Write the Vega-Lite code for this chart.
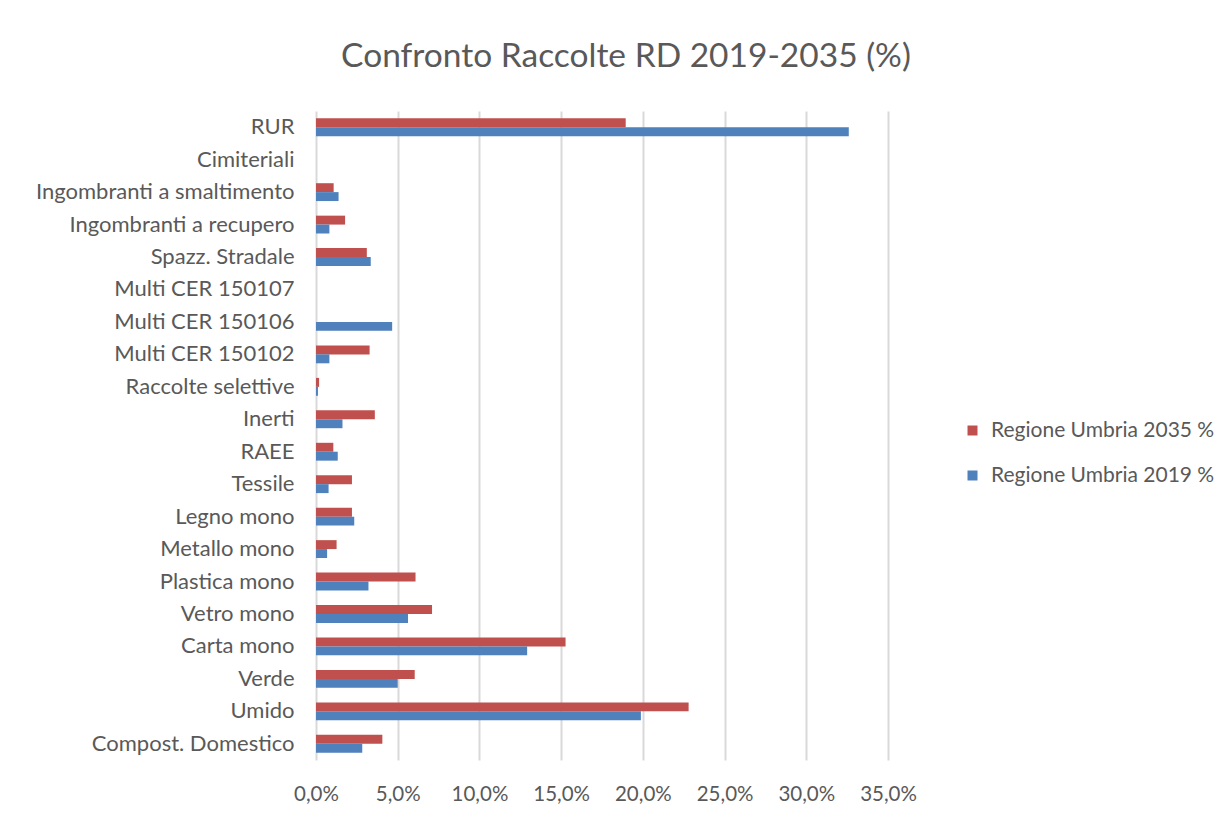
{
  "$schema": "https://vega.github.io/schema/vega-lite/v6.json",
  "width": 572,
  "height": 649,
  "autosize": {"type": "none"},
  "padding": {"left": 316, "top": 111, "right": 343, "bottom": 54},
  "background": "white",
  "title": {
    "text": "Confronto Raccolte RD 2019-2035 (%)",
    "font": "Lato",
    "fontSize": 33.5,
    "fontWeight": "normal",
    "color": "#595959",
    "anchor": "middle",
    "dx": 24,
    "offset": 37
  },
  "data": {
    "values": [
      {"categoria": "RUR", "serie": "Regione Umbria 2035 %", "valore": 18.95},
      {"categoria": "RUR", "serie": "Regione Umbria 2019 %", "valore": 32.6},
      {"categoria": "Cimiteriali", "serie": "Regione Umbria 2035 %", "valore": 0},
      {"categoria": "Cimiteriali", "serie": "Regione Umbria 2019 %", "valore": 0},
      {"categoria": "Ingombranti a smaltimento", "serie": "Regione Umbria 2035 %", "valore": 1.08},
      {"categoria": "Ingombranti a smaltimento", "serie": "Regione Umbria 2019 %", "valore": 1.38},
      {"categoria": "Ingombranti a recupero", "serie": "Regione Umbria 2035 %", "valore": 1.78},
      {"categoria": "Ingombranti a recupero", "serie": "Regione Umbria 2019 %", "valore": 0.82},
      {"categoria": "Spazz. Stradale", "serie": "Regione Umbria 2035 %", "valore": 3.11},
      {"categoria": "Spazz. Stradale", "serie": "Regione Umbria 2019 %", "valore": 3.35},
      {"categoria": "Multi CER 150107", "serie": "Regione Umbria 2035 %", "valore": 0},
      {"categoria": "Multi CER 150107", "serie": "Regione Umbria 2019 %", "valore": 0},
      {"categoria": "Multi CER 150106", "serie": "Regione Umbria 2035 %", "valore": 0},
      {"categoria": "Multi CER 150106", "serie": "Regione Umbria 2019 %", "valore": 4.66},
      {"categoria": "Multi CER 150102", "serie": "Regione Umbria 2035 %", "valore": 3.28},
      {"categoria": "Multi CER 150102", "serie": "Regione Umbria 2019 %", "valore": 0.82},
      {"categoria": "Raccolte selettive", "serie": "Regione Umbria 2035 %", "valore": 0.19},
      {"categoria": "Raccolte selettive", "serie": "Regione Umbria 2019 %", "valore": 0.12},
      {"categoria": "Inerti", "serie": "Regione Umbria 2035 %", "valore": 3.6},
      {"categoria": "Inerti", "serie": "Regione Umbria 2019 %", "valore": 1.62},
      {"categoria": "RAEE", "serie": "Regione Umbria 2035 %", "valore": 1.06},
      {"categoria": "RAEE", "serie": "Regione Umbria 2019 %", "valore": 1.33},
      {"categoria": "Tessile", "serie": "Regione Umbria 2035 %", "valore": 2.2},
      {"categoria": "Tessile", "serie": "Regione Umbria 2019 %", "valore": 0.77},
      {"categoria": "Legno mono", "serie": "Regione Umbria 2035 %", "valore": 2.2},
      {"categoria": "Legno mono", "serie": "Regione Umbria 2019 %", "valore": 2.34},
      {"categoria": "Metallo mono", "serie": "Regione Umbria 2035 %", "valore": 1.26},
      {"categoria": "Metallo mono", "serie": "Regione Umbria 2019 %", "valore": 0.68},
      {"categoria": "Plastica mono", "serie": "Regione Umbria 2035 %", "valore": 6.09},
      {"categoria": "Plastica mono", "serie": "Regione Umbria 2019 %", "valore": 3.21},
      {"categoria": "Vetro mono", "serie": "Regione Umbria 2035 %", "valore": 7.1},
      {"categoria": "Vetro mono", "serie": "Regione Umbria 2019 %", "valore": 5.63},
      {"categoria": "Carta mono", "serie": "Regione Umbria 2035 %", "valore": 15.27},
      {"categoria": "Carta mono", "serie": "Regione Umbria 2019 %", "valore": 12.92},
      {"categoria": "Verde", "serie": "Regione Umbria 2035 %", "valore": 6.04},
      {"categoria": "Verde", "serie": "Regione Umbria 2019 %", "valore": 5.0},
      {"categoria": "Umido", "serie": "Regione Umbria 2035 %", "valore": 22.8},
      {"categoria": "Umido", "serie": "Regione Umbria 2019 %", "valore": 19.88},
      {"categoria": "Compost. Domestico", "serie": "Regione Umbria 2035 %", "valore": 4.06},
      {"categoria": "Compost. Domestico", "serie": "Regione Umbria 2019 %", "valore": 2.83}
    ]
  },
  "mark": {"type": "bar"},
  "encoding": {
    "y": {
      "field": "categoria",
      "type": "nominal",
      "sort": null,
      "scale": {"paddingInner": 0.45, "paddingOuter": 0.225},
      "axis": {
        "title": null,
        "ticks": false,
        "domain": false,
        "labelPadding": 22,
        "labelLimit": 0,
        "labelFont": "Lato",
        "labelFontSize": 22,
        "labelColor": "#595959"
      }
    },
    "yOffset": {
      "field": "serie",
      "type": "nominal",
      "sort": ["Regione Umbria 2035 %", "Regione Umbria 2019 %"],
      "scale": {"paddingInner": 0, "paddingOuter": 0}
    },
    "x": {
      "field": "valore",
      "type": "quantitative",
      "scale": {"domain": [0, 35], "nice": false},
      "axis": {
        "title": null,
        "values": [0, 5, 10, 15, 20, 25, 30, 35],
        "labelExpr": "replace(format(datum.value / 100, '.1%'), '.', ',')",
        "labelFlush": false,
        "ticks": false,
        "domain": false,
        "grid": true,
        "gridColor": "#D9D9D9",
        "gridWidth": 2,
        "labelPadding": 24,
        "labelFont": "Lato",
        "labelFontSize": 20.5,
        "labelColor": "#595959"
      }
    },
    "color": {
      "field": "serie",
      "type": "nominal",
      "scale": {
        "domain": ["Regione Umbria 2035 %", "Regione Umbria 2019 %"],
        "range": ["#C0504D", "#4F81BD"]
      },
      "legend": {
        "title": null,
        "orient": "none",
        "legendX": 646,
        "legendY": 309,
        "symbolType": "square",
        "symbolSize": 100,
        "symbolStrokeWidth": 0,
        "labelFont": "Lato",
        "labelFontSize": 21,
        "labelLimit": 0,
        "labelColor": "#595959",
        "rowPadding": 23,
        "labelOffset": 8
      }
    }
  },
  "config": {
    "view": {"stroke": null}
  }
}
